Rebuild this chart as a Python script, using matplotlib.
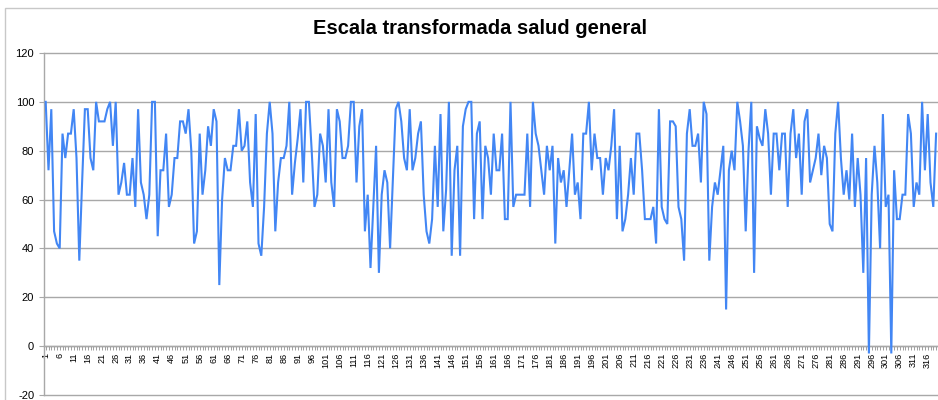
import matplotlib
matplotlib.use("Agg")
import matplotlib.pyplot as plt
from matplotlib.patches import Rectangle
import numpy as np

title = "Escala transformada salud general"

values = [
    100, 72, 97, 47, 42, 40, 87, 77, 87, 87, 97, 77, 35, 67, 97, 97, 77, 72, 100, 92,
    92, 92, 97, 100, 82, 100, 62, 67, 75, 62, 62, 77, 57, 97, 67, 62, 52, 62, 100, 100,
    45, 72, 72, 87, 57, 62, 77, 77, 92, 92, 87, 97, 80, 42, 47, 87, 62, 72, 90, 82,
    97, 92, 25, 60, 77, 72, 72, 82, 82, 97, 80, 82, 92, 67, 57, 95, 42, 37, 57, 87,
    100, 87, 47, 67, 77, 77, 82, 100, 62, 75, 85, 97, 67, 100, 100, 80, 57, 62, 87, 82,
    67, 97, 67, 57, 97, 92, 77, 77, 82, 100, 100, 67, 90, 97, 47, 62, 32, 57, 82, 30,
    62, 72, 67, 40, 68, 97, 100, 92, 77, 72, 97, 72, 77, 87, 92, 62, 47, 42, 52, 82,
    57, 95, 47, 64, 100, 37, 72, 82, 37, 90, 97, 100, 100, 52, 87, 92, 52, 82, 77, 62,
    87, 72, 72, 87, 52, 52, 100, 57, 62, 62, 62, 62, 87, 57, 100, 87, 82, 72, 62, 82,
    72, 82, 42, 77, 67, 72, 57, 72, 87, 62, 67, 52, 87, 87, 100, 72, 87, 77, 77, 62,
    77, 72, 82, 97, 52, 82, 47, 52, 62, 77, 62, 87, 87, 72, 52, 52, 52, 57, 42, 97,
    57, 52, 50, 92, 92, 90, 57, 52, 35, 87, 97, 82, 82, 87, 67, 100, 95, 35, 57, 67,
    62, 72, 82, 15, 72, 80, 72, 100, 92, 82, 47, 80, 100, 30, 90, 85, 82, 97, 87, 62,
    87, 87, 72, 87, 87, 57, 87, 97, 77, 87, 62, 92, 97, 67, 72, 77, 87, 70, 82, 77,
    50, 47, 87, 100, 77, 62, 72, 60, 87, 57, 77, 62, 30, 77, -3, 62, 82, 67, 40, 95,
    57, 62, -3, 72, 52, 52, 62, 62, 95, 87, 57, 67, 62, 100, 72, 95, 67, 57, 87,
]
categories = list(range(1, len(values) + 1))
label_positions = [c for c in categories if (c - 1) % 5 == 0]
tick_labels = [str(c) for c in label_positions]
y_ticks = [-20, 0, 20, 40, 60, 80, 100, 120]

W, H = 938, 400
fig = plt.figure(figsize=(W / 100, H / 100), dpi=100)
fig.patch.set_facecolor("white")

# outer chart border (cropped at right/bottom)
fig.patches.append(Rectangle((5 / W, -0.1), 1.2, (1 - 8 / H) + 0.1,
                             transform=fig.transFigure, fill=False,
                             edgecolor="#c8c8c8", linewidth=1.0))

left_px, right_px = 44.3, 940.3
top_px, bot_px = 53, 395
ax = fig.add_axes([left_px / W, 1 - bot_px / H, (right_px - left_px) / W,
                   (bot_px - top_px) / H])
ax.set_facecolor("none")

grid_color = "#a8a8a8"
for yv in y_ticks:
    ax.axhline(yv, color=grid_color, lw=1.0, zorder=1, clip_on=False)

ax.plot(categories, values, color="#4286f4", lw=1.5, zorder=3,
        solid_joinstyle="miter", clip_on=False)

ax.set_xlim(0.5, 320.5)
ax.set_ylim(-20, 120)

for s in ["top", "right"]:
    ax.spines[s].set_visible(False)
ax.spines["left"].set_color(grid_color)
ax.spines["left"].set_linewidth(1.0)
ax.spines["bottom"].set_position(("data", 0))
ax.spines["bottom"].set_color(grid_color)
ax.spines["bottom"].set_linewidth(1.0)

ax.set_yticks(y_ticks)
ax.set_yticklabels([str(v) for v in y_ticks], fontsize=8,
                   family=["Liberation Sans", "DejaVu Sans"])
ax.tick_params(axis="y", length=3.3, width=0.8, color=grid_color, pad=4)

ax.set_xticks(label_positions)
ax.set_xticks(categories, minor=True)
ax.set_xticklabels(tick_labels, rotation=90, fontsize=6.6,
                   family=["Liberation Sans", "DejaVu Sans"])
ax.tick_params(axis="x", which="both", length=3, width=0.6, color="#909090",
               direction="out", pad=1.5)

fig.text(480 / W, 1 - 29 / H, title, ha="center", va="center",
         fontsize=14.5, fontweight="bold",
         family=["Liberation Sans", "DejaVu Sans"])

fig.savefig("out.png", dpi=100)
